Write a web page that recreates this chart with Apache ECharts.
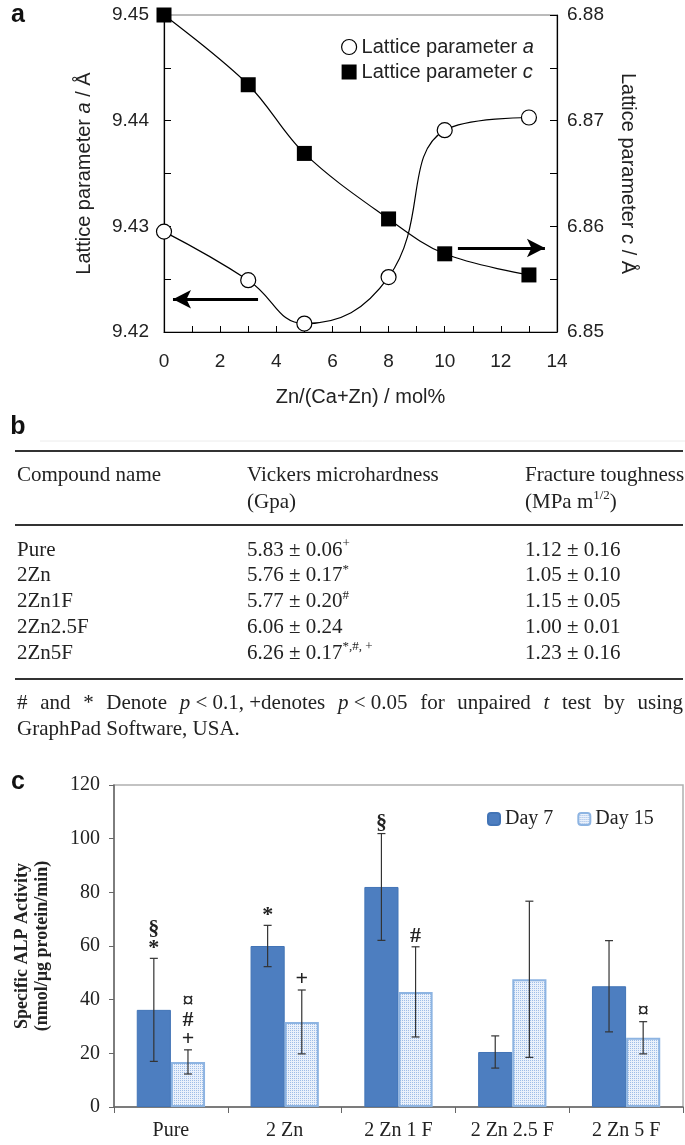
<!DOCTYPE html>
<html>
<head>
<meta charset="utf-8">
<script src="https://cdn.jsdelivr.net/npm/echarts@6/dist/echarts.min.js"></script>
<style>html,body{margin:0;padding:0;background:#fff}#c{width:685px;height:1145px}</style>
</head>
<body>
<div id="c"></div>
<script>
// ---------- Panel a data ----------
const latticeX = [0, 3, 5, 8, 10, 13];
const latticeA = [9.4295, 9.4249, 9.4208, 9.4252, 9.4391, 9.4403];
const latticeC = [6.8800, 6.8734, 6.8669, 6.8607, 6.8574, 6.8554];

// ---------- Panel b data ----------
const compounds = ['Pure', '2Zn', '2Zn1F', '2Zn2.5F', '2Zn5F'];
const hardMean = ['5.83', '5.76', '5.77', '6.06', '6.26'];
const hardSD = ['0.06', '0.17', '0.20', '0.24', '0.17'];
const hardSig = ['+', '*', '#', '', '*,#, +'];
const toughMean = ['1.12', '1.05', '1.15', '1.00', '1.23'];
const toughSD = ['0.16', '0.10', '0.05', '0.01', '0.16'];
const tableHeaders = [['Compound name', ''], ['Vickers microhardness', '(Gpa)'], ['Fracture toughness', '(MPa m{sup|1/2})']];
const footWords = ['#', 'and', '*', 'Denote', '{i|p} < 0.1, +denotes', '{i|p} < 0.05', 'for', 'unpaired', '{i|t}', 'test', 'by', 'using'];
const footLine2 = 'GraphPad Software, USA.';

// ---------- Panel c data ----------
const alpCategories = ['Pure', '2 Zn', '2 Zn 1 F', '2 Zn 2.5 F', '2 Zn 5 F'];
const day7 = [36.2, 60.0, 82.0, 20.5, 45.0];
const day7Err = [19.2, 7.7, 19.9, 6.0, 17.0];
const day15 = [16.8, 31.7, 42.9, 47.6, 25.8];
const day15Err = [4.5, 11.9, 16.8, 29.1, 6.0];
const day7Marks = ['§\n*', '*', '§', '', ''];
const day15Marks = ['¤\n#\n+', '+', '#', '', '¤'];
const alpTicks = [0, 20, 40, 60, 80, 100, 120];

const sans = 'Liberation Sans';
const serif = 'Liberation Serif';

// pattern for Day 15
const pat = document.createElement('canvas');
pat.width = 4; pat.height = 4;
(function () {
  const g = pat.getContext('2d');
  g.fillStyle = '#eaf1fb'; g.fillRect(0, 0, 4, 4);
  g.fillStyle = '#9fbde7';
  g.fillRect(0, 0, 1, 1); g.fillRect(2, 2, 1, 1); g.fillRect(2, 0, 1, 1); g.fillRect(0, 2, 1, 1);
})();
const day15Color = { image: pat, repeat: 'repeat' };

// ---------- graphic (labels, table) ----------
const G = [];
function T(x, y, text, o) {
  G.push({ type: 'text', x: x, y: y, silent: true, z: 100,
    style: Object.assign({ text: text, fontFamily: serif, fontSize: 21, fill: '#222',
      align: 'left', verticalAlign: 'middle', textAlign: 'left', textVerticalAlign: 'middle' }, o || {}) });
}
function L(x1, y1, x2, y2, w, c) {
  G.push({ type: 'line', silent: true, z: 100, shape: { x1: x1, y1: y1, x2: x2, y2: y2 }, style: { stroke: c, lineWidth: w } });
}
const supRich = {
  sup: { fontSize: 13, lineHeight: 13, verticalAlign: 'top', fontFamily: serif, fill: '#222' },
  i: { fontStyle: 'italic', fontSize: 21, fontFamily: serif, fill: '#222' }
};
// panel labels
T(18, 15, 'a', { fontFamily: sans, fontWeight: 'bold', fontSize: 25, fill: '#111', align: 'center', textAlign: 'center' });
T(18, 427, 'b', { fontFamily: sans, fontWeight: 'bold', fontSize: 25, fill: '#111', align: 'center', textAlign: 'center' });
T(18, 782, 'c', { fontFamily: sans, fontWeight: 'bold', fontSize: 25, fill: '#111', align: 'center', textAlign: 'center' });

// table
const colX = [17, 247, 525];
L(40, 441, 685, 441, 1, '#ececec');
L(15, 451, 683, 451, 2, '#333');
L(15, 525, 683, 525, 2, '#333');
L(15, 679, 683, 679, 2, '#333');
tableHeaders.forEach(function (h, k) {
  T(colX[k], 475, h[0], { rich: supRich, lineHeight: 26 });
  if (h[1]) T(colX[k], 502, h[1], { rich: supRich, lineHeight: 26 });
});
compounds.forEach(function (name, r) {
  const y = 550 + r * 25.8;
  T(colX[0], y, name, { lineHeight: 26 });
  T(colX[1], y, hardMean[r] + ' ± ' + hardSD[r] + (hardSig[r] ? '{sup|' + hardSig[r] + '}' : ''), { rich: supRich, lineHeight: 26 });
  T(colX[2], y, toughMean[r] + ' ± ' + toughSD[r], { lineHeight: 26 });
});

// justified footnote
(function () {
  const ctx = document.createElement('canvas').getContext('2d');
  function w(tok) {
    let total = 0;
    tok.split(/(\{i\|[^}]*\})/).forEach(function (part) {
      if (!part) return;
      const m = part.match(/^\{i\|([^}]*)\}$/);
      ctx.font = (m ? 'italic ' : '') + '21px "Liberation Serif"';
      total += ctx.measureText(m ? m[1] : part).width;
    });
    return total;
  }
  const widths = footWords.map(w);
  const sum = widths.reduce(function (a, b) { return a + b; }, 0);
  const left = 17, right = 683;
  const gap = (right - left - sum) / (footWords.length - 1);
  let x = left;
  footWords.forEach(function (tok, k) {
    T(x, 703, tok, { rich: supRich });
    x += widths[k] + gap;
  });
  T(left, 729, footLine2);
})();

// ---------- error bars data ----------
const errData = [];
alpCategories.forEach(function (c, i) {
  errData.push([i, day7[i], day7Err[i], -1]);
  errData.push([i, day15[i], day15Err[i], 1]);
});

const chart = echarts.init(document.getElementById('c'), null, { renderer: 'canvas' });
const option = {
  animation: false,
  backgroundColor: '#fff',
  textStyle: { fontFamily: sans },
  grid: [
    { left: 164, right: 128, top: 15, height: 317, show: true, borderColor: '#777', borderWidth: 1, backgroundColor: 'transparent' },
    { left: 114, right: 2, top: 785, height: 322, show: true, borderColor: '#b0b0b0', borderWidth: 1.5, backgroundColor: 'transparent' }
  ],
  legend: [
    {
      left: 336, top: 32, orient: 'vertical', itemWidth: 15, itemHeight: 15, itemGap: 5,
      selectedMode: false,
      data: [
        { name: 'Lattice parameter a', icon: 'circle', itemStyle: { color: '#fff', borderColor: '#000', borderWidth: 1.2 } },
        { name: 'Lattice parameter c', icon: 'rect', itemStyle: { color: '#000' } }
      ],
      formatter: function (n) { return n.replace(/ ([ac])$/, ' {i|$1}'); },
      textStyle: { fontFamily: sans, fontSize: 20, color: '#222', rich: { i: { fontStyle: 'italic', fontSize: 20, fontFamily: sans, color: '#222' } } }
    },
    {
      left: 482, top: 804, orient: 'horizontal', itemWidth: 12, itemHeight: 12, itemGap: 24,
      selectedMode: false,
      data: ['Day 7', 'Day 15'],
      textStyle: { fontFamily: serif, fontSize: 20, color: '#222' }
    }
  ],
  xAxis: [
    {
      type: 'value', gridIndex: 0, min: 0, max: 14, interval: 1,
      axisLine: { onZero: false, lineStyle: { color: '#000', width: 1.2 } },
      axisTick: { inside: true, length: 6, lineStyle: { color: '#000' } },
      splitLine: { show: false },
      axisLabel: { formatter: function (v) { return v % 2 === 0 ? String(v) : ''; }, color: '#222', fontSize: 19, fontFamily: sans, margin: 20 },
      name: 'Zn/(Ca+Zn) / mol%', nameLocation: 'middle', nameGap: 55,
      nameTextStyle: { fontFamily: sans, fontSize: 20, color: '#222' }
    },
    {
      type: 'category', gridIndex: 1, data: alpCategories,
      axisLine: { lineStyle: { color: '#666', width: 1.5 } },
      axisTick: { show: true, length: 6, lineStyle: { color: '#666' } },
      axisLabel: { fontFamily: serif, fontSize: 20, color: '#222', margin: 14 },
      splitLine: { show: false }
    }
  ],
  yAxis: [
    {
      type: 'value', gridIndex: 0, position: 'left', min: 9.42, max: 9.45, interval: 0.005,
      axisLine: { show: true, lineStyle: { color: '#000', width: 1.2 } },
      axisTick: { show: true, inside: true, length: 7, lineStyle: { color: '#000' } },
      splitLine: { show: false },
      axisLabel: {
        formatter: function (v) { const k = Math.round(v * 1000); return k % 10 === 0 ? (k / 1000).toFixed(2) : ''; },
        color: '#222', fontSize: 19, fontFamily: sans, margin: 15
      },
      name: 'Lattice parameter {i|a} / Å', nameLocation: 'middle', nameGap: 70,
      nameTextStyle: { fontFamily: sans, fontSize: 20, color: '#222', rich: { i: { fontStyle: 'italic', fontSize: 20, fontFamily: sans, color: '#222' } } }
    },
    {
      type: 'value', gridIndex: 0, position: 'right', min: 6.85, max: 6.88, interval: 0.005,
      axisLine: { show: true, lineStyle: { color: '#000', width: 1.2 } },
      axisTick: { show: true, inside: true, length: 7, lineStyle: { color: '#000' } },
      splitLine: { show: false },
      axisLabel: {
        formatter: function (v) { const k = Math.round(v * 1000); return k % 10 === 0 ? (k / 1000).toFixed(2) : ''; },
        color: '#222', fontSize: 19, fontFamily: sans, margin: 10
      },
      name: 'Lattice parameter {i|c} / Å', nameLocation: 'middle', nameGap: 61, nameRotate: -90,
      nameTextStyle: { fontFamily: sans, fontSize: 20, color: '#222', rich: { i: { fontStyle: 'italic', fontSize: 20, fontFamily: sans, color: '#222' } } }
    },
    {
      type: 'value', gridIndex: 1, min: alpTicks[0], max: alpTicks[alpTicks.length - 1], interval: alpTicks[1] - alpTicks[0],
      axisLine: { show: true, lineStyle: { color: '#666', width: 1.5 } },
      axisTick: { show: true, length: 5, lineStyle: { color: '#666' } },
      splitLine: { show: false },
      axisLabel: { fontFamily: serif, fontSize: 20, color: '#222', margin: 14 },
      name: 'Specific ALP Activity\n(nmol/µg protein/min)', nameLocation: 'middle', nameGap: 62,
      nameTextStyle: { fontFamily: serif, fontWeight: 'bold', fontSize: 18, lineHeight: 20, color: '#222' }
    }
  ],
  series: [
    {
      name: 'Lattice parameter a', type: 'line', xAxisIndex: 0, yAxisIndex: 0,
      data: latticeX.map(function (x, i) { return [x, latticeA[i]]; }),
      smooth: 0.45, symbol: 'circle', symbolSize: 15, showAllSymbol: true,
      lineStyle: { color: '#000', width: 1.2 },
      itemStyle: { color: '#fff', borderColor: '#000', borderWidth: 1.2 },
      z: 3,
      markLine: {
        silent: true, animation: false, symbolSize: [14, 18],
        label: { show: false },
        lineStyle: { color: '#000', width: 3, type: 'solid' },
        data: [[{ coord: [3.35, 9.4231], symbol: 'none' }, { coord: [0.32, 9.4231], symbol: 'arrow' }]]
      }
    },
    {
      name: 'Lattice parameter c', type: 'line', xAxisIndex: 0, yAxisIndex: 1,
      data: latticeX.map(function (x, i) { return [x, latticeC[i]]; }),
      smooth: 0.35, symbol: 'rect', symbolSize: 15, showAllSymbol: true,
      lineStyle: { color: '#000', width: 1.2 },
      itemStyle: { color: '#000' },
      z: 4,
      markLine: {
        silent: true, animation: false, symbolSize: [14, 18],
        label: { show: false },
        lineStyle: { color: '#000', width: 3, type: 'solid' },
        data: [[{ coord: [10.47, 6.85795], symbol: 'none' }, { coord: [13.57, 6.85795], symbol: 'arrow' }]]
      }
    },
    {
      name: 'Day 7', type: 'bar', xAxisIndex: 1, yAxisIndex: 2, data: day7,
      barGap: '0%', barCategoryGap: '40%',
      itemStyle: { color: '#4d7ec0', borderColor: '#4274b6', borderWidth: 1 }
    },
    {
      name: 'Day 15', type: 'bar', xAxisIndex: 1, yAxisIndex: 2, data: day15,
      barGap: '0%', barCategoryGap: '40%',
      itemStyle: { color: day15Color, borderColor: '#8db4e2', borderWidth: 2 }
    },
    {
      name: 'err', type: 'custom', xAxisIndex: 1, yAxisIndex: 2, data: errData,
      encode: { x: 0, y: 1 }, silent: true, z: 10,
      renderItem: function (params, api) {
        const i = api.value(0), v = api.value(1), e = api.value(2), side = api.value(3);
        const band = api.size([1, 0])[0];
        const cx = api.coord([i, v])[0] + side * band * 0.15;
        const yTop = api.coord([i, v + e])[1];
        const yBot = api.coord([i, v - e])[1];
        const cap = 4;
        const st = { stroke: '#333', lineWidth: 1.2 };
        const mark = side < 0 ? day7Marks[i] : day15Marks[i];
        const children = [
          { type: 'line', shape: { x1: cx, y1: yTop, x2: cx, y2: yBot }, style: st },
          { type: 'line', shape: { x1: cx - cap, y1: yTop, x2: cx + cap, y2: yTop }, style: st },
          { type: 'line', shape: { x1: cx - cap, y1: yBot, x2: cx + cap, y2: yBot }, style: st }
        ];
        if (mark) {
          children.push({ type: 'text', x: cx, y: yTop - 1,
            style: { text: mark, fontFamily: serif, fontWeight: 'bold', fontSize: 22, lineHeight: 19, fill: '#222',
              align: 'center', verticalAlign: 'bottom', textAlign: 'center', textVerticalAlign: 'bottom' } });
        }
        return { type: 'group', children: children };
      }
    }
  ],
  graphic: G
};
chart.setOption(option);
</script>
</body>
</html>
